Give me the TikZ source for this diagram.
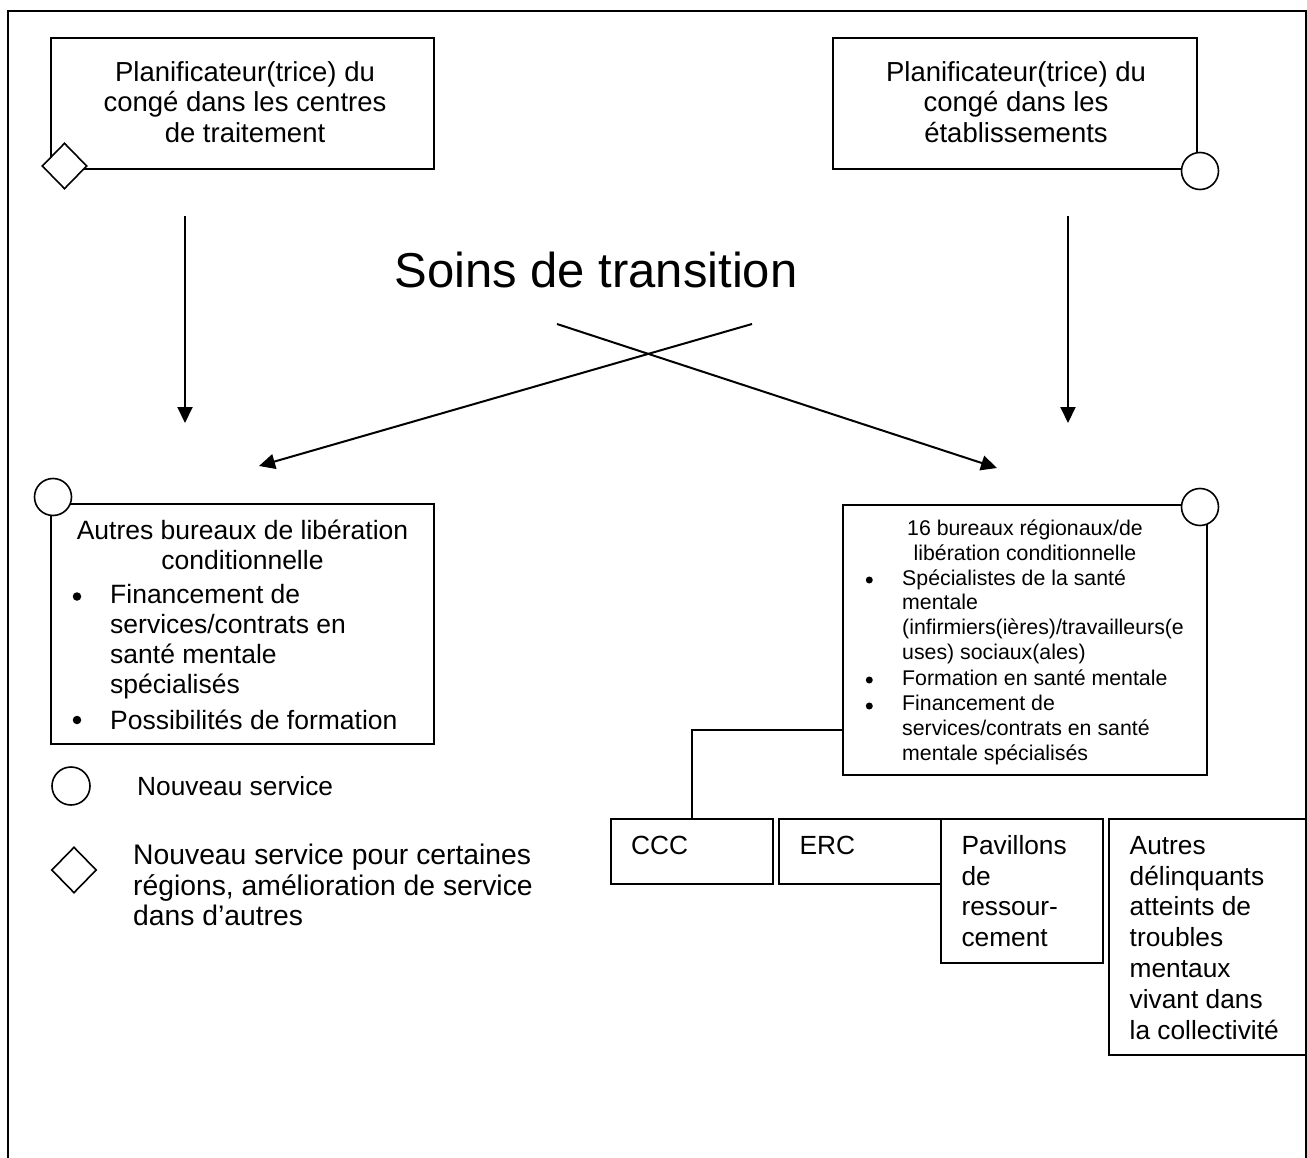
\documentclass[tikz,border=0pt]{standalone}
\usepackage{fontspec}
\setmainfont{Liberation Sans}
\usetikzlibrary{shapes.geometric,arrows.meta}
\begin{document}
\begin{tikzpicture}[x=1pt,y=-1pt,
  box/.style={draw, rectangle, line width=2pt, inner sep=0pt},
  cmark/.style={draw, circle, fill=white, line width=1.6pt, inner sep=0pt, minimum size=37pt},
  dmark/.style={draw, diamond, fill=white, line width=1.6pt, inner sep=0pt, minimum width=45pt, minimum height=46pt},
  txt/.style={inner sep=0pt},
  bigf/.style={font=\fontsize{27.5}{30.5}\selectfont},
  midf/.style={font=\fontsize{26.5}{30}\selectfont},
  smallf/.style={font=\fontsize{21.3}{24.8}\selectfont},
  botf/.style={font=\fontsize{26.3}{30.8}\selectfont},
  bul/.style={circle, fill=black, inner sep=0pt, minimum size=#1},
  arr/.style={line width=2pt, -{Triangle[length=16pt,width=15pt]}}]
\useasboundingbox (0,0) rectangle (1307,1158);
% outer frame
\draw[line width=2pt] (8,1160) -- (8,11) -- (1306,11) -- (1306,1160);

% top boxes
\node[box, minimum width=383pt, minimum height=131pt] (tl) at (242.5,103.5) {};
\node[txt, bigf, align=center] (tlt) at (245,102) {Planificateur(trice) du\\congé dans les centres\\de traitement};
\node[dmark] (tlm) at (64.5,166) {};

\node[box, minimum width=364pt, minimum height=131pt] (tr) at (1015,103.5) {};
\node[txt, bigf, align=center] (trt) at (1016,102) {Planificateur(trice) du\\congé dans les\\établissements};
\node[cmark] (trm) at (1200,171) {};

% title
\node[txt, font=\fontsize{49}{55}\selectfont] (soins) at (596,270) {Soins de transition};

% arrows
\coordinate (v1a) at (185,216); \coordinate (v1b) at (185,423);
\coordinate (v2a) at (1068,216); \coordinate (v2b) at (1068,423);
\coordinate (c1a) at (557,324); \coordinate (c1b) at (997,468);
\coordinate (c2a) at (752,324); \coordinate (c2b) at (259,466);
\draw[arr] (v1a) -- (v1b);
\draw[arr] (v2a) -- (v2b);
\draw[arr] (c1a) -- (c1b);
\draw[arr] (c2a) -- (c2b);

% middle left box
\node[box, minimum width=383pt, minimum height=240pt] (ml) at (242.5,624) {};
\node[txt, midf, align=center] (mlt) at (242.5,545) {Autres bureaux de libération\\conditionnelle};
\node[bul=8.5pt] (mlb1) at (77,596.5) {};
\node[txt, midf, align=left, anchor=west] (mli1) at (110,641.5) {Financement de\\services/contrats en\\santé mentale\\spécialisés};
\node[bul=8.5pt] (mlb2) at (77,720) {};
\node[txt, midf, anchor=west] (mli2) at (110,719.6) {Possibilités de formation};
\node[cmark] (mlm) at (53,497) {};

% middle right box
\node[box, minimum width=364pt, minimum height=270pt] (mr) at (1025,640) {};
\node[txt, smallf, align=center] (mrt) at (1025,540) {16 bureaux régionaux/de\\libération conditionnelle};
\node[bul=7pt] (mrb1) at (869.3,580) {};
\node[txt, smallf, align=left, anchor=west] (mri1) at (902,616.7) {Spécialistes de la santé\\mentale\\(infirmiers(ières)/travailleurs(e\\uses) sociaux(ales)};
\node[bul=7pt] (mrb2) at (869.3,680) {};
\node[txt, smallf, anchor=west] (mri2) at (902,677.3) {Formation en santé mentale};
\node[bul=7pt] (mrb3) at (869.3,706) {};
\node[txt, smallf, align=left, anchor=west] (mri3) at (902,730) {Financement de\\services/contrats en santé\\mentale spécialisés};
\node[cmark] (mrm) at (1200,507) {};

% bottom boxes
\node[box, minimum width=162pt, minimum height=65pt] (ccc) at (691.7,851.5) {};
\node[txt, botf, anchor=west] (ccct) at (631,845.5) {CCC};
\node[box, minimum width=162pt, minimum height=65pt] (erc) at (859.7,851.5) {};
\node[txt, botf, anchor=west] (erct) at (799.4,845.5) {ERC};
\node[box, minimum width=162pt, minimum height=144pt] (pav) at (1021.8,891) {};
\node[txt, botf, align=left, anchor=west] (pavt) at (961.3,891) {Pavillons\\de\\ressour-\\cement};
\node[box, minimum width=197pt, minimum height=236pt] (aut) at (1207.5,937) {};
\node[txt, botf, align=left, anchor=west] (autt) at (1129.5,937.7) {Autres\\délinquants\\atteints de\\troubles\\mentaux\\vivant dans\\la collectivité};

% connector
\draw[line width=2pt] ([yshift=-90pt]mr.west) -| (ccc.north);

% legend
\node[draw, circle, line width=1.6pt, inner sep=0pt, minimum size=38pt] (lc) at (71,786) {};
\node[txt, font=\fontsize{26.3}{30}\selectfont, anchor=west] (lct) at (137,786.5) {Nouveau service};
\node[dmark] (ld) at (74,870) {};
\node[txt, font=\fontsize{28.3}{30.7}\selectfont, align=left, anchor=west] (ldt) at (133,885) {Nouveau service pour certaines\\régions, amélioration de service\\dans d’autres};
\end{tikzpicture}
\end{document}
